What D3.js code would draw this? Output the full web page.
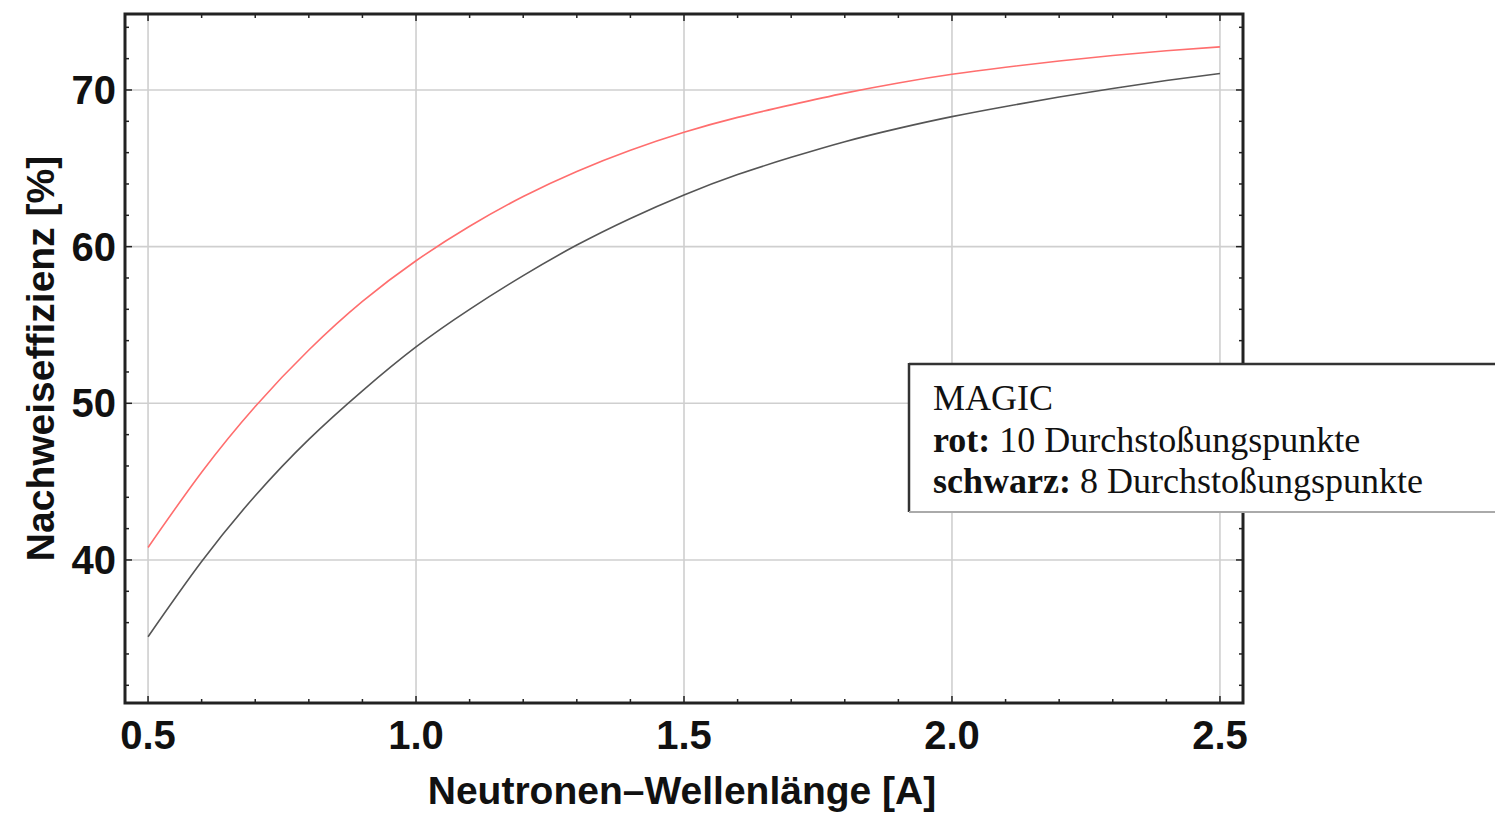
<!DOCTYPE html>
<html lang="de">
<head>
<meta charset="utf-8">
<title>Nachweiseffizienz MAGIC</title>
<script src="https://cdn.jsdelivr.net/npm/d3@7"></script>
<style>
  html, body { margin: 0; padding: 0; background: #fff; }
  svg { display: block; }
  .tick-label { font-family: "Liberation Sans", Arial, sans-serif; font-weight: bold; font-size: 40px; fill: #111; }
  .axis-title { font-family: "Liberation Sans", Arial, sans-serif; font-weight: bold; font-size: 39px; fill: #111; }
  .legend-text { font-family: "Liberation Serif", "Times New Roman", serif; font-size: 36px; fill: #111; }
</style>
</head>
<body>
<div id="chart"></div>
<script>
// wavelength in Angstrom
const wavelengths = [0.5, 0.6, 0.7, 0.8, 0.9, 1.0, 1.1, 1.2, 1.3, 1.4, 1.5,
                     1.6, 1.7, 1.8, 1.9, 2.0, 2.1, 2.2, 2.3, 2.4, 2.5];
// efficiency [%], 10 piercing points (red)
const effRed = [40.8, 45.6, 49.8, 53.4, 56.5, 59.1, 61.3, 63.2, 64.8, 66.15, 67.3,
                68.25, 69.05, 69.8, 70.45, 71.0, 71.45, 71.85, 72.2, 72.5, 72.75];
// efficiency [%], 8 piercing points (black)
const effBlack = [35.1, 39.9, 44.1, 47.7, 50.8, 53.6, 56.0, 58.15, 60.1, 61.8, 63.3,
                  64.6, 65.7, 66.7, 67.55, 68.3, 68.95, 69.55, 70.1, 70.6, 71.05];

const xTicks = [0.5, 1.0, 1.5, 2.0, 2.5];
const yTicks = [40, 50, 60, 70];
const legendLines = [
    {bold: "", text: "MAGIC"},
    {bold: "rot:", text: " 10 Durchstoßungspunkte"},
    {bold: "schwarz:", text: " 8 Durchstoßungspunkte"}
];

const width = 1495, height = 814;
const plot = {left: 125, right: 1243, top: 14, bottom: 703};

const svg = d3.select("#chart").append("svg")
    .attr("width", width)
    .attr("height", height);

const x = d3.scaleLinear()
    .domain([0.457, 2.543])
    .range([plot.left, plot.right]);
const y = d3.scaleLinear()
    .domain([30.87, 74.85])
    .range([plot.bottom, plot.top]);

// grid
const grid = svg.append("g").attr("stroke", "#cfcfcf").attr("stroke-width", 1.6);
grid.selectAll("line.gx").data(xTicks).join("line")
    .attr("x1", d => x(d)).attr("x2", d => x(d))
    .attr("y1", plot.top).attr("y2", plot.bottom);
grid.selectAll("line.gy").data(yTicks).join("line")
    .attr("x1", plot.left).attr("x2", plot.right)
    .attr("y1", d => y(d)).attr("y2", d => y(d));

// curves
const line = d3.line()
    .x((d, i) => x(wavelengths[i]))
    .y(d => y(d))
    .curve(d3.curveNatural);

svg.append("path").datum(effBlack)
    .attr("fill", "none").attr("stroke", "#555").attr("stroke-width", 1.6)
    .attr("d", line);
svg.append("path").datum(effRed)
    .attr("fill", "none").attr("stroke", "#ff6e6e").attr("stroke-width", 1.6)
    .attr("d", line);

// frame ticks (inward, all four sides)
const xMinor = d3.range(5, 26).map(d => d / 10);
const yMinor = d3.range(32, 75, 2);
const ticks = svg.append("g").attr("stroke", "#222").attr("stroke-width", 1.5);
xMinor.forEach(v => {
    const len = xTicks.includes(v) ? 7 : 4;
    ticks.append("line").attr("x1", x(v)).attr("x2", x(v))
        .attr("y1", plot.bottom).attr("y2", plot.bottom - len);
    ticks.append("line").attr("x1", x(v)).attr("x2", x(v))
        .attr("y1", plot.top).attr("y2", plot.top + len);
});
yMinor.forEach(v => {
    const len = yTicks.includes(v) ? 7 : 4;
    ticks.append("line").attr("y1", y(v)).attr("y2", y(v))
        .attr("x1", plot.left).attr("x2", plot.left + len);
    ticks.append("line").attr("y1", y(v)).attr("y2", y(v))
        .attr("x1", plot.right).attr("x2", plot.right - len);
});

// frame
svg.append("rect")
    .attr("x", plot.left).attr("y", plot.top)
    .attr("width", plot.right - plot.left).attr("height", plot.bottom - plot.top)
    .attr("fill", "none").attr("stroke", "#222").attr("stroke-width", 3);

// tick labels
svg.selectAll("text.xl").data(xTicks).join("text")
    .attr("class", "tick-label")
    .attr("x", d => x(d)).attr("y", 749)
    .attr("text-anchor", "middle")
    .text(d => d.toFixed(1));
svg.selectAll("text.yl").data(yTicks).join("text")
    .attr("class", "tick-label")
    .attr("x", 116).attr("y", d => y(d) + 14)
    .attr("text-anchor", "end")
    .text(d => d);

// axis titles
svg.append("text").attr("class", "axis-title")
    .attr("x", (plot.left + plot.right) / 2 - 2).attr("y", 804)
    .attr("text-anchor", "middle")
    .text("Neutronen\u2013Wellenlänge [A]");
svg.append("text").attr("class", "axis-title")
    .attr("transform", `translate(54, ${(plot.top + plot.bottom) / 2}) rotate(-90)`)
    .attr("text-anchor", "middle")
    .text("Nachweiseffizienz [%]");

// legend box
const lg = svg.append("g");
lg.append("rect")
    .attr("x", 909).attr("y", 364).attr("width", 620).attr("height", 148)
    .attr("fill", "#fff");
lg.append("line").attr("x1", 909).attr("x2", 1495).attr("y1", 364).attr("y2", 364)
    .attr("stroke", "#333").attr("stroke-width", 2.5);
lg.append("line").attr("x1", 909).attr("x2", 909).attr("y1", 363).attr("y2", 512)
    .attr("stroke", "#333").attr("stroke-width", 2.5);
lg.append("line").attr("x1", 909).attr("x2", 1495).attr("y1", 512).attr("y2", 512)
    .attr("stroke", "#aaa").attr("stroke-width", 2);

lg.selectAll("text").data(legendLines).join("text")
    .attr("class", "legend-text")
    .attr("x", 933).attr("y", (d, i) => 410 + i * 41.5)
    .each(function (d) {
        const t = d3.select(this);
        if (d.bold) t.append("tspan").attr("font-weight", "bold").text(d.bold);
        t.append("tspan").text(d.text);
    });
</script>
</body>
</html>
